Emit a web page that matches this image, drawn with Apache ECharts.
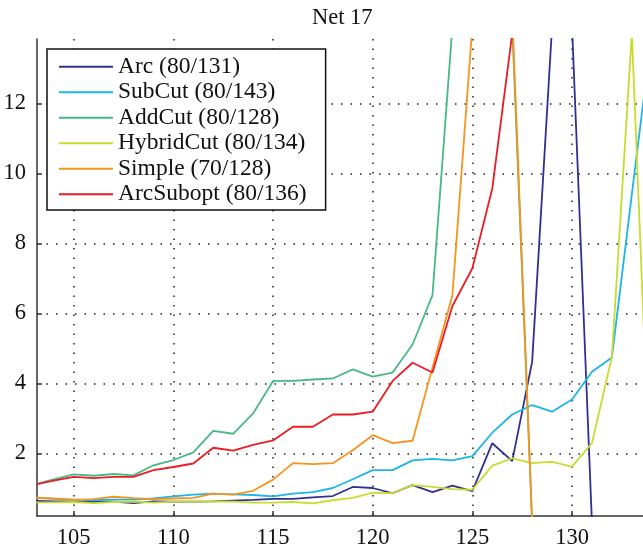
<!DOCTYPE html>
<html>
<head>
<meta charset="utf-8">
<script src="https://cdn.jsdelivr.net/npm/echarts@6/dist/echarts.min.js"></script>
<style>
html,body{margin:0;padding:0;background:#fff;}
#c{width:643px;height:551px;}
</style>
</head>
<body>
<div id="c"></div>
<script>
// x positions (integers)
const xs = [103,104,105,106,107,108,109,110,111,112,113,114,115,116,117,118,119,120,121,122,123,124,125,126,127,128,129,130,131,132,133,134,135,136];

const arc       = [0.64,0.63,0.63,0.61,0.62,0.58,0.63,0.62,0.62,0.63,0.65,0.67,0.70,0.70,0.74,0.78,1.04,1.01,0.86,1.09,0.89,1.08,0.92,2.29,1.78,4.62,14.2,14.2,0];
const subCut    = [0.73,0.70,0.68,0.66,0.68,0.68,0.71,0.77,0.82,0.85,0.83,0.81,0.77,0.85,0.89,1.01,1.26,1.52,1.52,1.80,1.84,1.80,1.92,2.59,3.11,3.38,3.19,3.54,4.33,4.74,9.4,14.0];
const addCut    = [1.11,1.26,1.40,1.36,1.41,1.37,1.66,1.81,2.03,2.64,2.56,3.14,4.07,4.07,4.11,4.14,4.40,4.19,4.31,5.11,6.52,14.2,14.2,14.2,14.2,0];
const hybridCut = [0.60,0.60,0.61,0.58,0.61,0.62,0.59,0.62,0.62,0.63,0.62,0.59,0.59,0.61,0.57,0.66,0.73,0.88,0.86,1.09,1.04,0.98,0.96,1.65,1.86,1.72,1.76,1.62,2.29,4.76,14.0,0];
const simple    = [0.74,0.71,0.67,0.69,0.76,0.72,0.69,0.71,0.73,0.85,0.82,0.93,1.25,1.72,1.69,1.72,2.09,2.52,2.29,2.36,4.45,6.52,14.2,14.2,14.6,0];
const arcSubopt = [1.10,1.22,1.33,1.29,1.33,1.33,1.52,1.61,1.71,2.16,2.08,2.24,2.37,2.76,2.76,3.11,3.11,3.19,4.07,4.59,4.31,6.21,7.29,9.57,14.0,14.0,14.0,14.0,14.0,14.0,14.0,14.0,14.0,0];

const names  = ['Arc (80/131)','SubCut (80/143)','AddCut (80/128)','HybridCut (80/134)','Simple (70/128)','ArcSubopt (80/136)'];
const values = [arc, subCut, addCut, hybridCut, simple, arcSubopt];
const colors = ['#2e3192','#1bb5ea','#48b985','#c8dc30','#f7941d','#ed1c24'];

const xTicks = [105,110,115,120,125,130];
const yTicks = [2,4,6,8,10,12];

const FONT = "'Liberation Serif','Times New Roman',serif";

const series = names.map((n, k) => ({
  name: n,
  type: 'line',
  symbol: 'none',
  clip: true,
  data: values[k].map((v, i) => [xs[i], v]),
  lineStyle: { color: colors[k], width: 1.8 },
  itemStyle: { color: colors[k] },
  emphasis: { disabled: true },
  animation: false
}));

const chart = echarts.init(document.getElementById('c'), null, { renderer: 'canvas' });
chart.setOption({
  animation: false,
  backgroundColor: '#fff',
  title: {
    text: 'Net 17',
    left: 307,
    top: 2,
    textStyle: { fontFamily: FONT, fontSize: 22.5, fontWeight: 'normal', color: '#111' }
  },
  legend: {
    orient: 'vertical',
    left: 47,
    top: 49,
    padding: [5, 19, 3, 12],
    icon: 'rect',
    itemWidth: 54,
    itemHeight: 2,
    itemGap: 0,
    backgroundColor: '#fff',
    borderColor: '#111',
    borderWidth: 1.5,
    borderRadius: 0,
    selectedMode: false,
    textStyle: { fontFamily: FONT, fontSize: 23.5, color: '#111', lineHeight: 25.5, height: 25.5 },
    data: names
  },
  grid: { left: 37, right: 0, top: 39, bottom: 35, containLabel: false },
  xAxis: {
    type: 'value',
    min: 103.16,
    max: 133.56,
    axisLine: { show: true, lineStyle: { color: '#333', width: 1.5 } },
    axisTick: { show: true, inside: true, length: 5, customValues: xTicks, lineStyle: { color: '#333', width: 1.5 } },
    axisLabel: { customValues: xTicks, fontFamily: FONT, fontSize: 22.5, color: '#111', margin: 11 },
    splitLine: { show: true, lineStyle: { color: '#222', width: 1.5, type: [1.5, 8] } }
  },
  yAxis: {
    type: 'value',
    min: 0.21,
    max: 13.84,
    axisLine: { show: true, lineStyle: { color: '#333', width: 1.5 } },
    axisTick: { show: true, inside: true, length: 5, customValues: yTicks, lineStyle: { color: '#333', width: 1.5 } },
    axisLabel: { customValues: yTicks, fontFamily: FONT, fontSize: 22.5, color: '#111', margin: 11 },
    splitLine: { show: true, lineStyle: { color: '#222', width: 1.5, type: [1.5, 8] } }
  },
  series: series
});
</script>
</body>
</html>
